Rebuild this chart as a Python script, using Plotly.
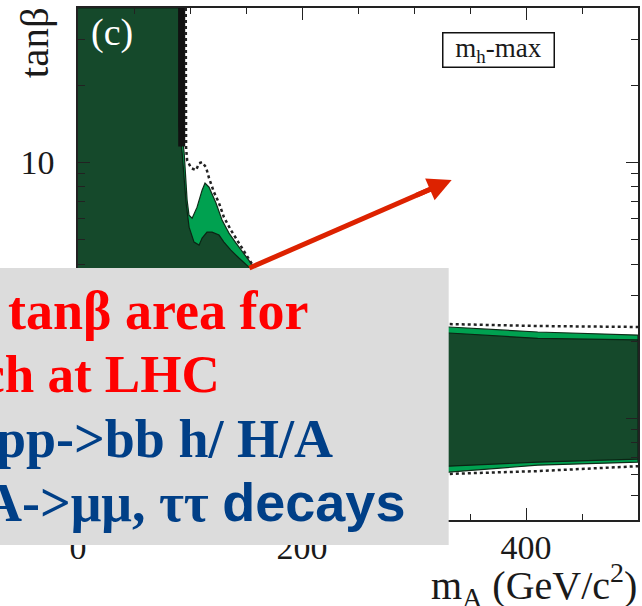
import math
import plotly.graph_objects as go

# ---------------- data ----------------
# 95% CL observed exclusion (light green), closed polygon in (mA, tanb)
light_mA = [0, 92.1, 92.1, 94.8, 97.4, 99.1, 101.9, 106.3, 110.8, 113.4, 117.0, 123.2,
            128.6, 134.8, 141.1, 148.2, 154.4, 161.5, 179.3, 200, 250, 331, 410.5, 500,
            500, 410.5, 331, 250, 150, 0]
light_tb = [40, 40, 13.95, 10.84, 7.11, 6.21, 6.04, 6.67, 7.77, 8.28, 7.98, 6.92,
            5.94, 5.28, 4.83, 4.41, 4.03, 3.62, 2.89, 2.5, 2.35, 2.27, 2.17, 2.11,
            0.673, 0.655, 0.615, 0.6, 0.58, 0.55]

# 99.7% CL observed exclusion (dark green)
dark_mA = [0, 90.0, 90.0, 93.0, 96.5, 99.2, 103.6, 108.1, 110.8, 115.2, 119.7, 125.9,
           130.3, 136.5, 143.7, 152.6, 165.9, 183.7, 210, 260, 331, 410.5, 500,
           500, 410.5, 331, 250, 150, 0]
dark_tb = [40, 40, 13.95, 10.84, 6.92, 5.57, 4.87, 4.74, 5.05, 5.33, 5.33, 5.19,
           4.87, 4.53, 4.22, 3.89, 3.31, 2.64, 2.35, 2.22, 2.15, 2.05, 2.02,
           0.692, 0.673, 0.649, 0.63, 0.6, 0.57]

# dense black boundary at low mA
edge_mA = [92.6, 92.6]
edge_tb = [40, 11.5]

# expected exclusion (dotted), upper and lower branches
exp_up_mA = [96.2, 96.5, 97.4, 101.0, 105.4, 108.1, 110.8, 114.3, 117.0, 121.4, 125.9,
             130.3, 136.6, 143.7, 150.8, 157.0, 170.4, 197, 250, 331, 410.5, 500]
exp_up_tb = [40, 11.4, 10.2, 9.47, 9.31, 9.9, 10.0, 9.55, 8.66, 7.63, 6.92,
             6.09, 5.42, 4.83, 4.26, 3.89, 3.16, 2.41, 2.35, 2.33, 2.29, 2.27]
exp_lo_mA = [0, 150, 250, 331, 410.5, 500]
exp_lo_tb = [0.55, 0.57, 0.59, 0.604, 0.621, 0.649]

x_ticks = [0, 200, 400]
x_ticklabels = ["0", "200", "400"]
y_ticks = [1, 10]
y_ticklabels = ["1", "10"]
y_minor = [0.4, 0.5, 0.6, 0.7, 0.8, 0.9, 2, 3, 4, 5, 6, 7, 8, 9, 20, 30, 40]

# ---------------- figure ----------------
W, H = 642, 606
ML, MR, MT, MB = 78, 2, 8, 86
PW, PH = W - ML - MR, H - MT - MB


def px(x):
    return (x - ML) / PW


def py(y):
    return (H - MB - y) / PH


SERIF = "Liberation Serif, Times New Roman, serif"
DARK = "#15492b"
LIGHT = "#00a150"
ARROW = "#dd2200"

fig = go.Figure()
fig.add_trace(go.Scatter(x=light_mA, y=light_tb, fill="toself", fillcolor=LIGHT,
                         mode="lines", line=dict(color="#0e2c18", width=1.2),
                         hoverinfo="skip", showlegend=False))
fig.add_trace(go.Scatter(x=dark_mA, y=dark_tb, fill="toself", fillcolor=DARK,
                         mode="lines", line=dict(color="#0b2414", width=1.2),
                         hoverinfo="skip", showlegend=False))
fig.add_trace(go.Scatter(x=edge_mA, y=edge_tb, mode="lines",
                         line=dict(color="#111111", width=7),
                         hoverinfo="skip", showlegend=False))
for xs, ys in [(exp_up_mA, exp_up_tb), (exp_lo_mA, exp_lo_tb)]:
    fig.add_trace(go.Scatter(x=xs, y=ys, mode="lines",
                             line=dict(color="#222222", width=2.5, dash="dot"),
                             hoverinfo="skip", showlegend=False))

axis_common = dict(showgrid=False, zeroline=False, showline=True, linecolor="#222",
                   linewidth=1.5, mirror="ticks", ticks="inside", ticklen=12,
                   tickwidth=1.3, tickcolor="#222",
                   tickfont=dict(family=SERIF, size=34, color="#1a1a1a"))

fig.update_xaxes(range=[0, 500], tickmode="array", tickvals=x_ticks, ticktext=x_ticklabels,
                 ticklabelstandoff=-4,
                 minor=dict(dtick=50, ticks="inside", ticklen=6, tickwidth=1.2, tickcolor="#222"),
                 **axis_common)
fig.update_yaxes(type="log", range=[math.log10(0.4), math.log10(40)], tickmode="array",
                 tickvals=y_ticks, ticktext=y_ticklabels, ticklabelstandoff=15,
                 minor=dict(tickmode="array", tickvals=y_minor, ticks="inside", ticklen=7,
                            tickwidth=1.2, tickcolor="#222"),
                 **axis_common)

# grey overlay box
fig.add_shape(type="rect", xref="paper", yref="paper", x0=px(-5), x1=px(450),
              y0=py(545), y1=py(268), fillcolor="#dcdcdc", line=dict(width=0), layer="above")

# arrow shaft (pixel geometry -> paper)
tail = (250, 268)
head = (453, 180)
dx, dy = head[0] - tail[0], head[1] - tail[1]
L = math.hypot(dx, dy)
ux, uy = dx / L, dy / L
fig.add_shape(type="line", xref="paper", yref="paper",
              x0=px(tail[0]), y0=py(tail[1]),
              x1=px(head[0] - ux * 14), y1=py(head[1] - uy * 14),
              line=dict(color=ARROW, width=5), layer="above")

ann = []
# axis titles
ann.append(dict(text="tanβ", textangle=-90, xref="paper", yref="paper", x=px(34), y=py(43),
                xanchor="center", yanchor="middle",
                showarrow=False, font=dict(family=SERIF, size=41, color="#1a1a1a")))
ann.append(dict(text="m<sub>A</sub> (GeV/c<sup>2</sup>)", xref="paper", yref="paper",
                x=px(641), y=py(585), xanchor="right", yanchor="middle", showarrow=False,
                font=dict(family=SERIF, size=40, color="#1a1a1a")))
# panel label
ann.append(dict(text="(c)", xref="paper", yref="paper", x=px(112), y=py(32),
                xanchor="center", yanchor="middle", showarrow=False,
                font=dict(family=SERIF, size=38, color="white")))
# scenario box
ann.append(dict(text="m<sub>h</sub>-max", xref="paper", yref="paper", x=px(500.5), y=py(49.5),
                xanchor="center", yanchor="middle",
                showarrow=False, width=108, height=31, bgcolor="white", bordercolor="#111",
                borderwidth=1.5, font=dict(family=SERIF, size=27, color="#1a1a1a")))
# arrow head
ann.append(dict(text="", xref="paper", yref="paper", x=px(head[0]), y=py(head[1]),
                ax=-ux * 40, ay=-uy * 40, axref="pixel", ayref="pixel",
                showarrow=True, arrowhead=2, arrowsize=0.95,
                arrowwidth=5, arrowcolor=ARROW))
# overlay text
RED = "#ff0000"
BLUE = "#003f87"
FS = 54
ann.append(dict(text="<b>tanβ area for</b>", xref="paper", yref="paper", x=px(6), y=py(310.5),
                xanchor="left", yanchor="middle", showarrow=False,
                font=dict(family=SERIF, size=FS, color=RED)))
ann.append(dict(text="<b>search at LHC</b>", xref="paper", yref="paper", x=px(223), y=py(373.5),
                xanchor="right", yanchor="middle", showarrow=False,
                font=dict(family=SERIF, size=FS - 1, color=RED)))
ann.append(dict(text="<b>pp-&gt;bb h/ H/A</b>", xref="paper", yref="paper", x=px(-6), y=py(438.5),
                xanchor="left", yanchor="middle", showarrow=False,
                font=dict(family=SERIF, size=FS, color=BLUE)))
ann.append(dict(text="<b>A-&gt;μμ, ττ <span style='font-family:Liberation Sans, Arial, sans-serif'>decays</span></b>",
                xref="paper", yref="paper", x=px(408), y=py(502.5),
                xanchor="right", yanchor="middle", showarrow=False,
                font=dict(family=SERIF, size=FS, color=BLUE)))

fig.update_layout(width=W, height=H, margin=dict(l=ML, r=MR, t=MT, b=MB),
                  paper_bgcolor="white", plot_bgcolor="white", annotations=ann,
                  showlegend=False)

fig.write_html("out.html")
